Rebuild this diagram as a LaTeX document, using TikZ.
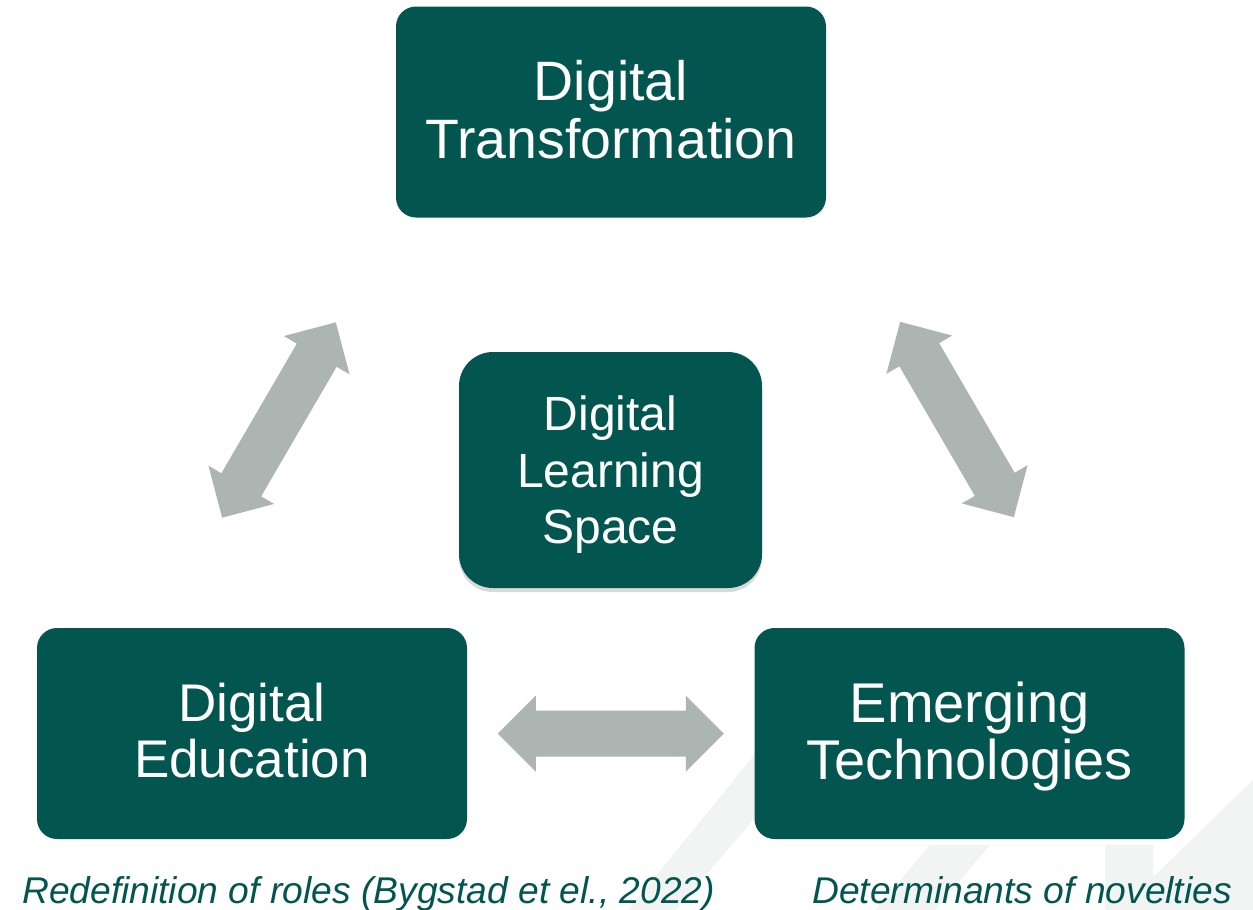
\documentclass[tikz,border=0pt]{standalone}
\usepackage{fontspec}
\setmainfont{Liberation Sans}
\usetikzlibrary{shadows,calc}
\definecolor{tealbox}{HTML}{03564F}
\definecolor{arrowgray}{HTML}{ACB5B2}
\definecolor{faintgray}{HTML}{F2F4F4}
\tikzset{
  box/.style={fill=tealbox, draw=none, inner sep=0pt,
    rounded corners=20pt, minimum width=430pt, minimum height=211pt},
  centerbox/.style={box, rounded corners=34pt, minimum width=303pt, minimum height=236pt,
    drop shadow={shadow xshift=0pt, shadow yshift=-4pt, opacity=0.15, fill=black}},
  boxtext/.style={text=white, align=center, inner sep=0pt},
  caption/.style={anchor=base west, inner sep=0pt, text=tealbox,
    font=\fontsize{37.2}{44}\selectfont\itshape},
  watermark/.style={fill=faintgray, draw=none},
  dblarrow/.pic={\fill[arrowgray] (-113,0) -- (-75,38) -- (-75,23) -- (75,23) -- (75,38)
    -- (113,0) -- (75,-38) -- (75,-23) -- (-75,-23) -- (-75,-38) -- cycle;}
}
\begin{document}
\begin{tikzpicture}[x=1pt,y=-1pt]
\useasboundingbox[fill=white] (0,0) rectangle (1253,910);
% faint background watermark
\fill[watermark] (628,910) -- (760,748) -- (760,812) -- (676,910) -- cycle;
\fill[watermark] (930,845) -- (990,845) -- (935,910) -- (875,910) -- cycle;
\fill[watermark] (1105,845) -- (1153,845) -- (1153,877) -- (1253,780) -- (1253,910) -- (1105,910) -- cycle;
% boxes
\node[box] (dt) at (611,112) {};
\node[centerbox] (dls) at (610.5,470) {};
\node[box] (de) at (252,733.5) {};
\node[box] (et) at (969.5,733.5) {};
% box texts
\node[boxtext, font=\fontsize{55.5}{58}\selectfont] (dt-t) at (611,109.8) {Digital\\Transformation};
\node[boxtext, font=\fontsize{48}{56.5}\selectfont] (dls-t) at (610.5,475) {Digital\\Learning\\Space};
\node[boxtext, font=\fontsize{53}{56}\selectfont] (de-t) at (252,731) {Digital\\Education};
\node[boxtext, font=\fontsize{56}{57}\selectfont] (et-t) at (969.5,737) {Emerging\\Technologies};
% block arrows between the outer boxes
\coordinate (aL) at (279,420);
\coordinate (aR) at (957,419.5);
\coordinate (aB) at ($(de.east)!0.5!(et.west)$);
\pic[rotate=59.8] at (aL) {dblarrow};
\pic[rotate=-59.8] at (aR) {dblarrow};
\pic at (aB) {dblarrow};
% captions
\node[caption] (c1) at (22,903) {Redefinition of roles (Bygstad et el., 2022)};
\node[caption] (c2) at (812,903) {Determinants of novelties};
\end{tikzpicture}
\end{document}
